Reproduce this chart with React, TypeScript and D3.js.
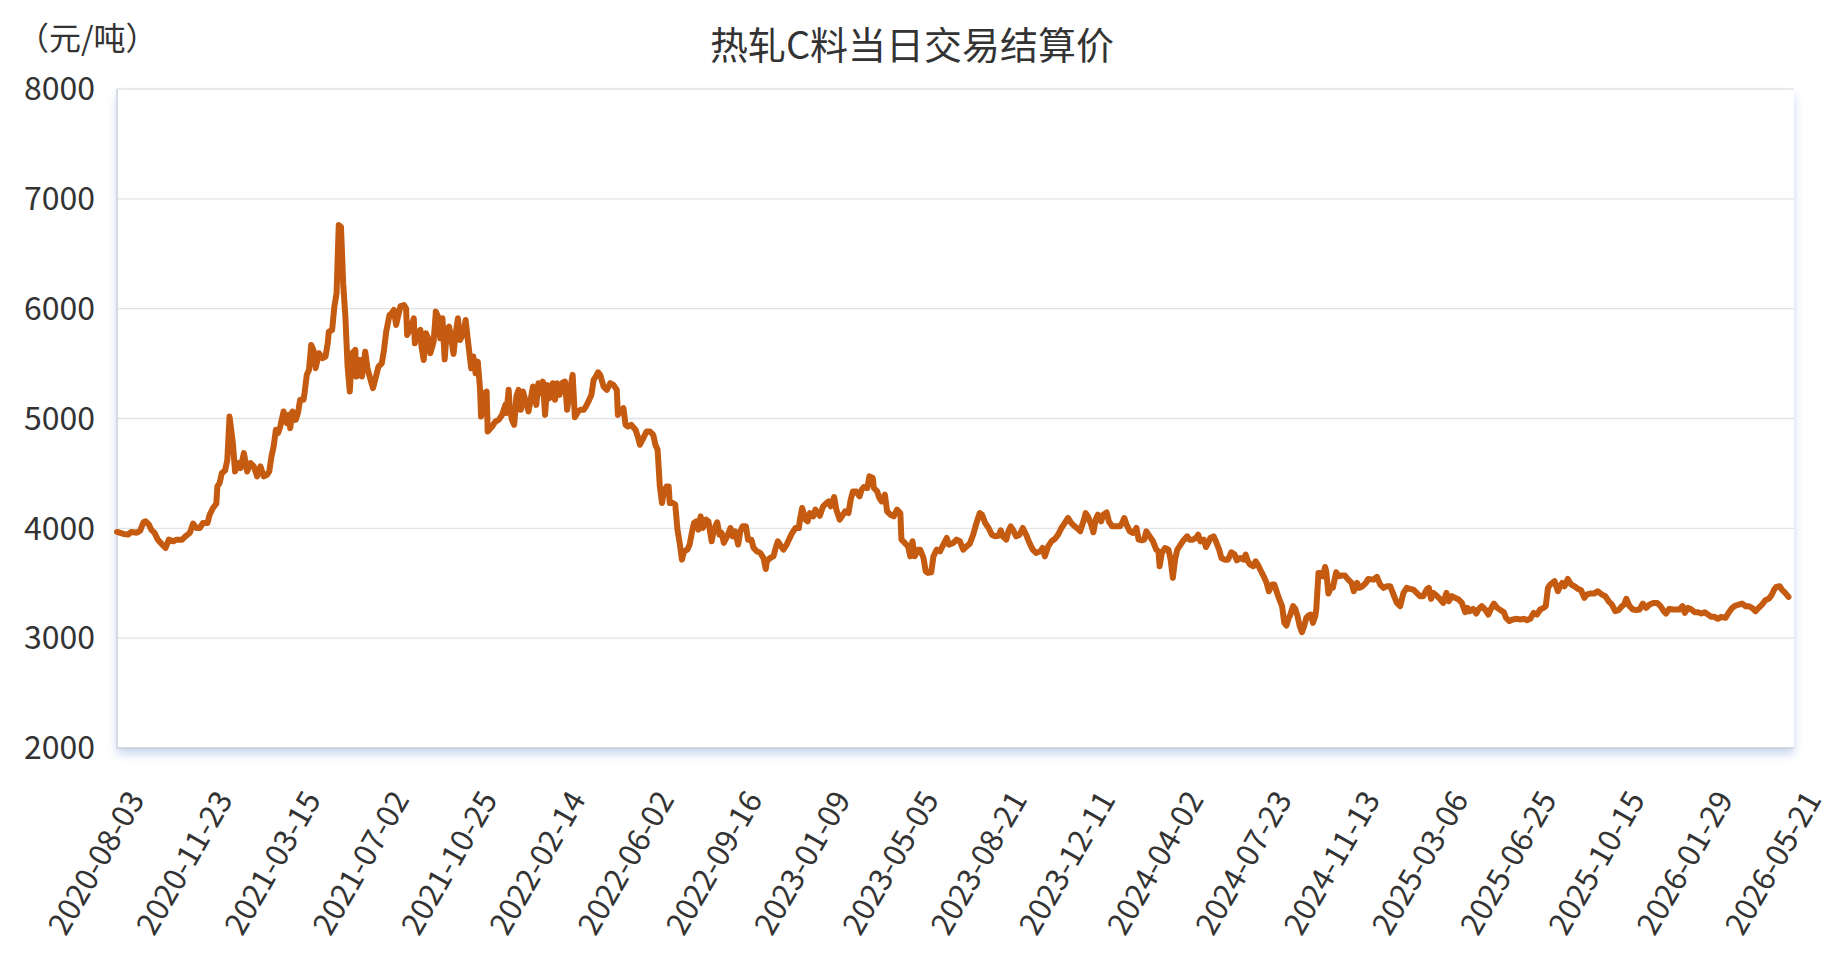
import { useEffect, useRef } from "react";
import * as d3 from "d3";

const chartTitle = "热轧C料当日交易结算价";
const unitLabel = "（元/吨）";

// category labels, one every 80 trading days
const dateLabels = [
  "2020-08-03", "2020-11-23", "2021-03-15", "2021-07-02", "2021-10-25",
  "2022-02-14", "2022-06-02", "2022-09-16", "2023-01-09", "2023-05-05",
  "2023-08-21", "2023-12-11", "2024-04-02", "2024-07-23", "2024-11-13",
  "2025-03-06", "2025-06-25", "2025-10-15", "2026-01-29", "2026-05-21",
];
const labelStep = 80;

const yTicks = [2000, 3000, 4000, 5000, 6000, 7000, 8000];

// [trading-day index, settlement price]
const settlePrice: [number, number][] = [
  [0,3967],[6,3949],[10,3943],[13,3967],[18,3960],[21,3979],[24,4055],[26,4064],[29,4033],[31,3988],
  [34,3958],[37,3897],[41,3852],[44,3821],[47,3897],[51,3882],[54,3897],[59,3897],[62,3927],[66,3958],
  [69,4043],[72,4003],[75,4003],[78,4049],[82,4049],[84,4124],[87,4185],[90,4224],[91,4382],[93,4412],
  [95,4503],[98,4527],[100,4624],[102,5018],[105,4776],[107,4518],[110,4594],[112,4549],[115,4685],[118,4518],
  [121,4594],[124,4564],[127,4473],[130,4564],[133,4473],[136,4488],[138,4518],[140,4655],[142,4746],[144,4897],
  [146,4867],[148,4927],[151,5064],[154,4958],[156,5033],[157,4912],[159,5064],[162,4988],[164,5049],[166,5170],
  [169,5170],[170,5230],[172,5397],[174,5442],[176,5670],[178,5624],[180,5458],[183,5594],[186,5549],[189,5564],
  [191,5685],[192,5791],[195,5806],[197,6018],[199,6139],[201,6761],[203,6745],[205,6230],[207,5927],[209,5473],
  [211,5245],[213,5594],[216,5624],[217,5382],[220,5533],[222,5382],[225,5609],[227,5458],[229,5382],[232,5276],
  [234,5352],[237,5473],[240,5503],[242,5624],[244,5791],[247,5942],[249,5958],[251,5988],[253,5852],[255,5942],
  [257,6024],[260,6033],[262,6003],[263,5761],[266,5821],[269,5912],[270,5685],[272,5776],[275,5806],[276,5655],
  [278,5533],[280,5776],[282,5730],[284,5594],[287,5700],[289,5973],[291,5927],[293,5730],[295,5912],[297,5539],
  [299,5806],[301,5836],[303,5730],[305,5588],[307,5776],[309,5912],[311,5715],[314,5776],[316,5897],[318,5715],
  [321,5458],[323,5564],[325,5412],[327,5518],[329,5276],[330,5018],[333,5230],[335,5245],[336,4882],[340,4927],
  [343,4973],[346,4988],[349,5033],[352,5124],[353,5049],[355,5261],[356,5094],[358,4988],[360,4942],[362,5200],
  [364,5261],[366,5079],[368,5245],[370,5170],[373,5064],
  [377,5291],[380,5124],[382,5321],[384,5230],[386,5336],[388,5033],[390,5306],[392,5185],[395,5321],[397,5170],
  [399,5321],[401,5215],[404,5327],[406,5336],[408,5079],[410,5230],[413,5397],[415,5012],[418,5064],[420,5079],
  [423,5079],[425,5109],[428,5170],[430,5215],[432,5351],[434,5382],[436,5421],[438,5397],[441,5291],[444,5261],
  [447,5321],[450,5306],[453,5261],[454,5033],[457,5079],[459,5094],[461,4942],[463,4927],[466,4942],[470,4897],
  [472,4836],[474,4761],[477,4821],[480,4882],[483,4882],[486,4852],[488,4761],[490,4715],[492,4382],[494,4230],
  [495,4291],[498,4382],[500,4382],[501,4230],[504,4230],[506,4215],[508,3988],[510,3867],[512,3715],[514,3791],
  [517,3806],[519,3852],[521,3958],[523,4049],[525,4064],[527,3988],[529,4109],[531,4003],[534,4079],[536,4064],
  [539,3882],[541,3988],[544,4055],[546,3943],[548,3958],[550,3867],[553,3927],[556,4003],[558,3927],[560,3973],
  [563,3852],[565,3973],[567,4018],[570,4018],[572,3897],[575,3897],[577,3821],[580,3791],[583,3776],[586,3730],
  [588,3630],[589,3700],[592,3730],[595,3745],[597,3821],[599,3882],[602,3836],[604,3806],[607,3852],[609,3897],
  [612,3958],[615,4003],[618,4003],[619,4079],[621,4185],[624,4079],[626,4064],[628,4139],[631,4109],[633,4170],
  [635,4139],[637,4115],[640,4200],[643,4230],[645,4245],[647,4200],[650,4285],[652,4170],[655,4079],[657,4109],
  [660,4155],[663,4139],[665,4261],[667,4336],[670,4336],[673,4291],[675,4352],[677,4376],[680,4367],[682,4473],
  [685,4458],[686,4367],[689,4336],[691,4276],[693,4245],[696,4306],[698,4155],[701,4124],[704,4109],[707,4170],
  [710,4139],[711,3897],[714,3867],[717,3836],[719,3745],[721,3882],[723,3745],[726,3806],[728,3806],[731,3730],
  [733,3609],[735,3594],[738,3600],[740,3745],[743,3806],[746,3791],[749,3852],[752,3912],[754,3852],
  [758,3867],[761,3897],[764,3882],[767,3806],[770,3836],[773,3861],[776,3942],[779,4048],[782,4139],[784,4124],
  [787,4048],[790,4003],[793,3942],[796,3927],[799,3933],[801,3982],[803,3927],[806,3897],[808,3973],[810,4018],
  [812,3988],[815,3927],[818,3942],[821,4003],[824,3942],[827,3867],[830,3806],[833,3776],[837,3791],[839,3821],
  [841,3745],[844,3836],[847,3882],[850,3903],[853,3942],[856,4003],[859,4048],[862,4094],[865,4048],[868,4018],
  [871,3994],[873,3973],[876,4064],[878,4139],[880,4109],[883,4033],[885,3964],[887,4079],[889,4124],[892,4064],
  [894,4124],[897,4145],[899,4064],[902,4018],[905,4018],[909,4018],[911,4048],[913,4094],[915,4033],[918,3973],
  [921,3958],[924,4003],[926,3897],[929,3891],[931,3897],[933,3973],[936,3927],[939,3882],[942,3806],[944,3791],
  [945,3655],[947,3776],[950,3821],[953,3806],[955,3715],[957,3549],[959,3715],[961,3806],[963,3836],[966,3882],
  [970,3927],[972,3897],[975,3897],[978,3912],[980,3942],[982,3882],[985,3897],[987,3830],[989,3867],[991,3912],
  [994,3927],[996,3882],[999,3806],[1001,3730],[1004,3715],[1007,3715],[1010,3782],[1013,3761],[1015,3709],[1018,3730],
  [1021,3715],[1023,3761],[1025,3700],[1027,3670],[1030,3655],[1032,3700],[1034,3670],[1037,3609],[1040,3549],[1042,3503],
  [1044,3427],[1047,3488],[1049,3488],[1051,3427],[1053,3367],[1056,3291],[1058,3139],[1060,3115],[1062,3185],[1063,3200],
  [1066,3291],[1068,3267],[1070,3200],[1072,3109],[1074,3055],[1076,3109],[1078,3185],[1080,3206],[1082,3215],[1084,3139],
  [1086,3200],[1087,3261],[1089,3594],[1091,3594],[1093,3564],[1095,3648],[1096,3609],[1098,3406],[1100,3458],[1102,3458],
  [1105,3600],[1107,3564],[1110,3570],[1113,3570],[1116,3533],[1119,3503],[1121,3427],[1124,3503],[1126,3458],[1129,3473],
  [1132,3503],[1134,3539],
  [1139,3533],[1142,3558],[1145,3488],[1148,3458],[1151,3473],[1154,3473],[1157,3397],[1160,3321],[1163,3291],[1166,3412],
  [1169,3458],[1172,3449],[1175,3442],[1178,3412],[1181,3382],[1184,3382],[1187,3442],[1189,3458],[1191,3358],[1193,3412],
  [1196,3388],[1199,3358],[1202,3321],[1205,3412],[1207,3336],[1210,3382],[1213,3367],[1216,3352],[1219,3321],[1222,3236],
  [1224,3276],[1226,3245],[1229,3267],[1232,3224],[1234,3261],[1237,3291],[1240,3261],[1243,3215],[1245,3261],[1248,3315],
  [1251,3276],[1254,3255],[1257,3236],[1259,3185],[1262,3155],[1265,3170],[1269,3176],[1272,3170],[1275,3176],[1278,3164],
  [1281,3176],[1284,3230],[1287,3215],[1290,3261],[1293,3276],[1295,3291],[1297,3458],[1299,3488],[1301,3503],[1303,3518],
  [1306,3427],[1308,3473],[1310,3503],[1312,3473],[1315,3539],[1318,3488],[1321,3473],[1324,3449],[1327,3436],[1330,3367],
  [1332,3397],[1335,3406],[1339,3406],[1342,3427],[1346,3397],[1349,3382],[1352,3336],[1355,3306],[1358,3245],[1361,3255],
  [1364,3291],[1366,3306],[1368,3358],[1371,3291],[1374,3261],[1377,3255],[1380,3261],[1383,3315],[1386,3276],[1389,3306],
  [1393,3321],[1396,3321],[1399,3291],[1402,3245],[1404,3224],[1407,3267],[1410,3261],[1413,3261],[1416,3261],[1419,3291],
  [1421,3230],[1424,3276],[1427,3261],[1430,3236],[1433,3236],[1436,3224],[1439,3236],[1442,3215],[1445,3194],[1448,3194],
  [1451,3176],[1454,3194],[1458,3185],[1461,3236],[1464,3276],[1467,3297],[1470,3306],[1473,3315],[1476,3291],[1479,3291],
  [1482,3276],[1485,3245],[1488,3276],[1491,3306],[1494,3345],[1497,3358],[1500,3397],[1502,3442],[1504,3467],[1507,3473],
  [1509,3442],[1512,3412],[1515,3376],
];

const W = 1837;
const H = 963;
const FONT = "'Noto Sans CJK SC', 'Noto Sans', sans-serif";

export default function App() {
  const svgRef = useRef<SVGSVGElement>(null);

  useEffect(() => {
    const svg = d3.select(svgRef.current);
    svg.selectAll("*").remove();

    const margin = { top: 89, right: 43, bottom: 215, left: 117 };
    const x0 = margin.left;
    const x1 = W - margin.right;
    const y0 = margin.top;
    const y1 = H - margin.bottom;

    const lastIdx = (dateLabels.length - 1) * labelStep;
    const xScale = d3.scaleLinear().domain([0, lastIdx]).range([x0, x1]);
    const yScale = d3.scaleLinear().domain([2000, 8000]).range([y1, y0]);

    const defs = svg.append("defs");
    const f = defs.append("filter")
      .attr("id", "plotShadow")
      .attr("x", "-5%").attr("y", "-5%")
      .attr("width", "110%").attr("height", "120%");
    f.append("feDropShadow")
      .attr("dx", 0).attr("dy", 6)
      .attr("stdDeviation", 5)
      .attr("flood-color", "#6f92d8")
      .attr("flood-opacity", 0.38);

    // plot box with soft shadow
    svg.append("rect")
      .attr("x", x0).attr("y", y0)
      .attr("width", x1 - x0).attr("height", y1 - y0)
      .attr("fill", "#fff")
      .attr("filter", "url(#plotShadow)");

    // grid
    svg.append("g")
      .selectAll("line")
      .data(yTicks.slice(1))
      .enter()
      .append("line")
      .attr("x1", x0).attr("x2", x1)
      .attr("y1", d => yScale(d)).attr("y2", d => yScale(d))
      .attr("stroke", "#e3e3e3")
      .attr("stroke-width", 1.3);

    // axis lines
    svg.append("line")
      .attr("x1", x0).attr("x2", x0).attr("y1", y0).attr("y2", y1)
      .attr("stroke", "#cdd2dc").attr("stroke-width", 1.5);
    svg.append("line")
      .attr("x1", x0).attr("x2", x1).attr("y1", y1).attr("y2", y1)
      .attr("stroke", "#c8ccd4").attr("stroke-width", 1.5);

    // y labels
    svg.append("g")
      .selectAll("text")
      .data(yTicks)
      .enter()
      .append("text")
      .attr("x", x0 - 22)
      .attr("y", d => yScale(d))
      .attr("dy", "0.35em")
      .attr("text-anchor", "end")
      .attr("font-family", FONT)
      .attr("font-size", 32)
      .attr("fill", "#333")
      .text(d => d);

    // x labels
    svg.append("g")
      .selectAll("text")
      .data(dateLabels)
      .enter()
      .append("text")
      .attr("transform", (_d, i) => `translate(${xScale(i * labelStep) + 19},${y1 + 46}) rotate(-60)`)
      .attr("dy", "0.35em")
      .attr("text-anchor", "end")
      .attr("font-family", FONT)
      .attr("font-size", 31)
      .attr("fill", "#333")
      .text(d => d);

    // price line
    const line = d3.line<[number, number]>()
      .x(d => xScale(d[0]))
      .y(d => yScale(d[1]));

    svg.append("path")
      .datum(settlePrice)
      .attr("fill", "none")
      .attr("stroke", "#c55a11")
      .attr("stroke-width", 6)
      .attr("stroke-linejoin", "round")
      .attr("stroke-linecap", "round")
      .attr("d", line);

    // title and unit
    svg.append("text")
      .attr("x", 912).attr("y", 59)
      .attr("text-anchor", "middle")
      .attr("font-family", FONT)
      .attr("font-size", 38)
      .attr("fill", "#333")
      .text(chartTitle);

    svg.append("text")
      .attr("x", 17).attr("y", 50)
      .attr("font-family", FONT)
      .attr("font-size", 32)
      .attr("fill", "#333")
      .text(unitLabel);
  }, []);

  return (
    <svg
      ref={svgRef}
      width={W}
      height={H}
      style={{ position: "absolute", left: 0, top: 0, display: "block", background: "#fff" }}
    />
  );
}
